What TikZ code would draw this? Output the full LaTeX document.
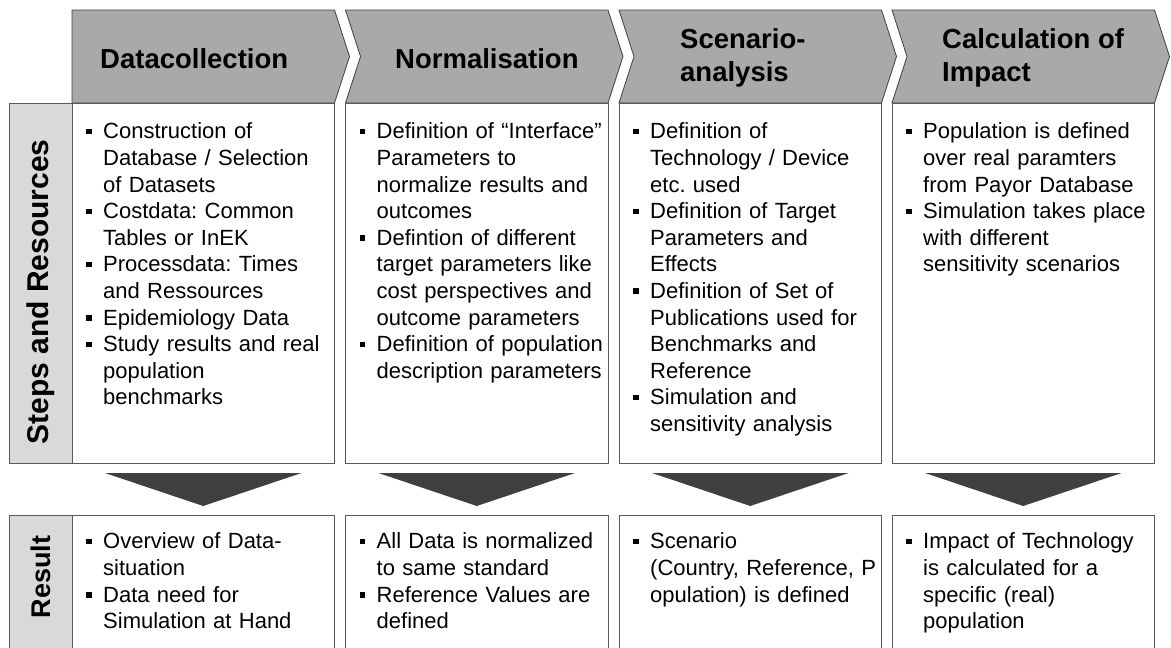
\documentclass[tikz,border=0pt]{standalone}
\usepackage{fontspec}
\setmainfont{Liberation Sans}
\frenchspacing
\definecolor{hdrgray}{HTML}{A9A9A9}
\definecolor{lblgray}{HTML}{D9D9D9}
\definecolor{arrgray}{HTML}{404040}
\definecolor{linegray}{HTML}{404040}
\definecolor{boxline}{HTML}{5A5A5A}
\newcommand{\bitem}[1]{\par\hangindent=17pt\hangafter=1\noindent\strut\makebox[17pt][l]{\raisebox{4.5pt}{\rule{5.5pt}{5.5pt}}}#1\par}
\begin{document}
\begin{tikzpicture}[x=1pt,y=-1pt,
  hdrshape/.style={fill=hdrgray,draw=linegray,line width=0.8pt,line join=miter},
  box/.style={draw=boxline,fill=white,line width=0.8pt},
  lblbox/.style={draw=boxline,fill=lblgray,line width=0.8pt},
  arrshape/.style={fill=arrgray,draw=none},
  hdrtext/.style={font=\fontsize{27.5}{33}\selectfont\bfseries,inner sep=0pt,align=left},
  lbltext/.style={font=\fontsize{30}{36}\selectfont\bfseries,inner sep=0pt,rotate=90},
  body/.style={font=\fontsize{22}{26.6}\selectfont,anchor=north west,inner sep=0pt,text width=245pt,align=left}]
\useasboundingbox (0,0) rectangle (1171,648);
\clip (0,0) rectangle (1171,648);
% header chevrons
\draw[hdrshape] (72,10) -- (334.5,10) -- (349.5,56.5) -- (334.5,103) -- (72,103) -- cycle;
\draw[hdrshape] (345.5,10) -- (608,10) -- (623,56.5) -- (608,103) -- (345.5,103) -- (360.5,56.5) -- cycle;
\draw[hdrshape] (619,10) -- (881.5,10) -- (896.5,56.5) -- (881.5,103) -- (619,103) -- (634,56.5) -- cycle;
\draw[hdrshape] (892,10) -- (1154.5,10) -- (1169.5,56.5) -- (1154.5,103) -- (892,103) -- (907,56.5) -- cycle;
\node[hdrtext,anchor=base west] (h1) at (100,68) {Datacollection};
\node[hdrtext,anchor=base west] (h2) at (395,68) {Normalisation};
\node[hdrtext,anchor=north west] (h3) at (680,25) {\strut Scenario-\\analysis};
\node[hdrtext,anchor=north west] (h4) at (942,25) {\strut Calculation of\\Impact};
% row labels
\draw[lblbox] (9,103) rectangle (72,463);
\draw[lblbox] (9,515) rectangle (72,670);
\node[lbltext] (l1) at (40.5,292) {Steps and Resources};
\node[lbltext,font=\fontsize{27}{32}\selectfont\bfseries] (l2) at (40.5,577) {Result};
% boxes row 1
\draw[box] (72,103) rectangle (334.5,463);
\draw[box] (345.5,103) rectangle (608,463);
\draw[box] (619,103) rectangle (881.5,463);
\draw[box] (892,103) rectangle (1154.5,463);
% boxes row 2
\draw[box] (72,515) rectangle (334.5,670);
\draw[box] (345.5,515) rectangle (608,670);
\draw[box] (619,515) rectangle (881.5,670);
\draw[box] (892,515) rectangle (1154.5,670);
% arrows
\fill[arrshape] (105,473) -- (301.5,473) -- (203.25,506) -- cycle;
\fill[arrshape] (378.5,473) -- (575,473) -- (476.75,506) -- cycle;
\fill[arrshape] (652,473) -- (848.5,473) -- (750.25,506) -- cycle;
\fill[arrshape] (925,473) -- (1121.5,473) -- (1023.25,506) -- cycle;
% texts row 1
\node[body] (t11) at (86,112) {%
\bitem{Construction of\newline Database / Selection\newline of Datasets}
\bitem{Costdata: Common\newline Tables or InEK}
\bitem{Processdata: Times\newline and Ressources}
\bitem{Epidemiology Data}
\bitem{Study results and real\newline population\newline benchmarks}};
\node[body] (t12) at (359.5,112) {%
\bitem{Definition of “Interface”\newline Parameters to\newline normalize results and\newline outcomes}
\bitem{Defintion of different\newline target parameters like\newline cost perspectives and\newline outcome parameters}
\bitem{Definition of population\newline description parameters}};
\node[body] (t13) at (633,112) {%
\bitem{Definition of\newline Technology / Device\newline etc. used}
\bitem{Definition of Target\newline Parameters and\newline Effects}
\bitem{Definition of Set of\newline Publications used for\newline Benchmarks and\newline Reference}
\bitem{Simulation and\newline sensitivity analysis}};
\node[body] (t14) at (906,112) {%
\bitem{Population is defined\newline over real paramters\newline from Payor Database}
\bitem{Simulation takes place\newline with different\newline sensitivity scenarios}};
% texts row 2
\node[body] (t21) at (86,522) {%
\bitem{Overview of Data-\newline situation}
\bitem{Data need for\newline Simulation at Hand}};
\node[body] (t22) at (359.5,522) {%
\bitem{All Data is normalized\newline to same standard}
\bitem{Reference Values are\newline defined}};
\node[body] (t23) at (633,522) {%
\bitem{Scenario\newline (Country, Reference, P\newline opulation) is defined}};
\node[body] (t24) at (906,522) {%
\bitem{Impact of Technology\newline is calculated for a\newline specific (real)\newline population}};
\end{tikzpicture}
\end{document}
